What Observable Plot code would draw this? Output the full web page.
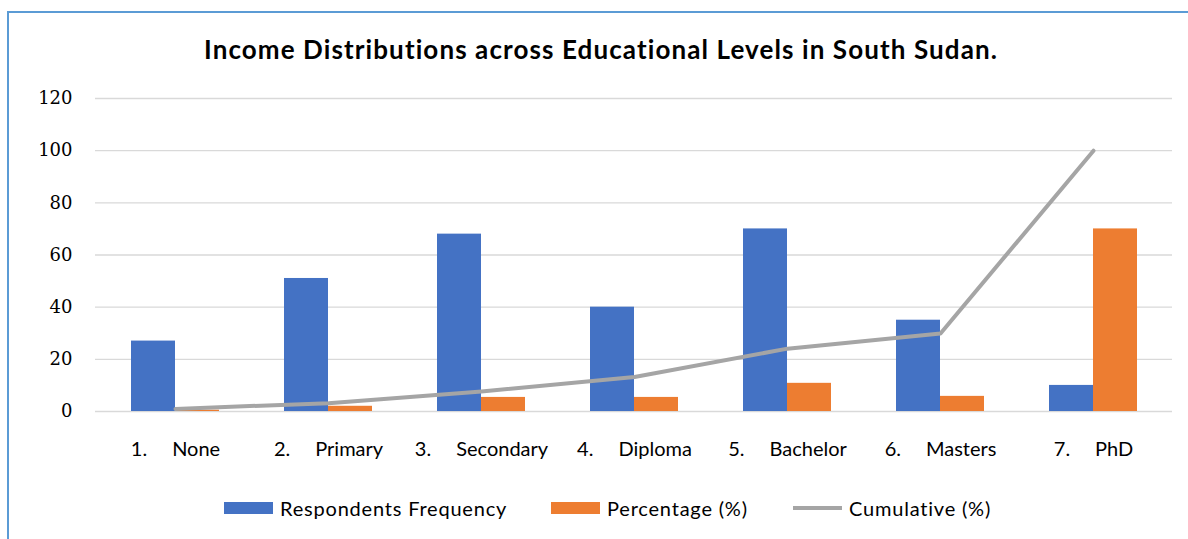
<!DOCTYPE html>
<html>
<head>
<meta charset="utf-8">
<script src="https://cdn.jsdelivr.net/npm/d3@7"></script>
<script src="https://cdn.jsdelivr.net/npm/@observablehq/plot@0.6"></script>
<style>
  html, body { margin: 0; padding: 0; background: #fff; }
  #wrap { position: relative; width: 1188px; height: 539px; overflow: hidden; background: #fff; }
  #frameTop { position: absolute; left: 7px; top: 11px; width: 1181px; height: 2px; background: #5b9bd5; }
  #frameLeft { position: absolute; left: 7px; top: 11px; width: 2px; height: 528px; background: #5b9bd5; }
  #title { position: absolute; left: 0; top: 33px; width: 1202px; text-align: center;
           font-family: Lato, "Open Sans", sans-serif; font-weight: bold; font-size: 26px;
           letter-spacing: 1.1px; color: #000; }
  #chart { position: absolute; left: 0; top: 0; }
  #legend { position: absolute; left: 0; top: 496px; width: 1188px; height: 24px;
            font-family: Lato, sans-serif; font-size: 20px; letter-spacing: 0.8px; color: #000; }
  .item { position: absolute; top: 0; display: flex; align-items: center; height: 24px; }
  .sw { display: inline-block; width: 49px; height: 12px; margin-right: 7px; }
  .ln { display: inline-block; width: 49px; height: 4px; margin-right: 7px; background: #a5a5a5; }
</style>
</head>
<body>
<div id="wrap">
  <div id="chart"></div>
  <div id="frameTop"></div>
  <div id="frameLeft"></div>
  <div id="title">Income Distributions across Educational Levels in South Sudan.</div>
  <div id="legend"></div>
</div>
<script>
const categories = ["None", "Primary", "Secondary", "Diploma", "Bachelor", "Masters", "PhD"];
const numbers = ["1.", "2.", "3.", "4.", "5.", "6.", "7."];
const frequency = [27, 51, 68, 40, 70, 35, 10];
const percentage = [0.5, 2, 5.4, 5.4, 10.8, 5.8, 70];
const cumulative = [1, 3.2, 7.7, 13.2, 24.1, 29.9, 100];
const yTicks = [0, 20, 40, 60, 80, 100, 120];
const seriesNames = ["Respondents Frequency", "Percentage (%)", "Cumulative (%)"];
const colors = ["#4472c4", "#ed7d31", "#a5a5a5"];

const rows = categories.map((c, i) => ({
  cat: c, num: numbers[i], freq: frequency[i], pct: percentage[i], cum: cumulative[i]
}));
const labelOf = Object.fromEntries(rows.map(r => [r.cat, r.num + "\u2003\u2002" + r.cat]));

const chart = Plot.plot({
  width: 1188,
  height: 539,
  marginLeft: 95,
  marginRight: 16,
  marginTop: 98,
  marginBottom: 128,
  style: { background: "transparent", overflow: "visible" },
  x: { domain: categories, paddingInner: 0.714, paddingOuter: 0.354, label: null },
  y: { domain: [0, 120], ticks: yTicks, label: null },
  marks: [
    Plot.gridY(yTicks, { stroke: "#d9d9d9", strokeOpacity: 1, strokeWidth: 1.3 }),
    Plot.axisY(yTicks, {
      tickSize: 0, tickPadding: 23, label: null,
      fontFamily: "'DejaVu Serif', serif", fontSize: 18, fill: "#000"
    }),
    Plot.axisX({
      tickSize: 0, tickPadding: 30, label: null,
      tickFormat: d => labelOf[d],
      fontFamily: "Lato, sans-serif", fontSize: 20, fill: "#000",
      textStyle: { whiteSpace: "pre", letterSpacing: "0.8px" }
    }),
    Plot.barY(rows, { x: "cat", y: "freq", fill: colors[0], dx: -22, insetLeft: 0, insetRight: 0 }),
    Plot.barY(rows, { x: "cat", y: "pct", fill: colors[1], dx: 22, insetLeft: 0, insetRight: 0 }),
    Plot.lineY(rows, { x: "cat", y: "cum", stroke: colors[2], strokeWidth: 4, strokeLinejoin: "round", strokeLinecap: "round" })
  ]
});
document.getElementById("chart").appendChild(chart);

// Legend (HTML, below the plot area)
const legend = document.getElementById("legend");
const legendPos = [224, 551, 793];
seriesNames.forEach((name, i) => {
  const item = document.createElement("div");
  item.className = "item";
  item.style.left = legendPos[i] + "px";
  const sw = document.createElement("span");
  if (i < 2) { sw.className = "sw"; sw.style.background = colors[i]; }
  else { sw.className = "ln"; }
  item.appendChild(sw);
  const t = document.createElement("span");
  t.textContent = name;
  item.appendChild(t);
  legend.appendChild(item);
});
</script>
</body>
</html>
